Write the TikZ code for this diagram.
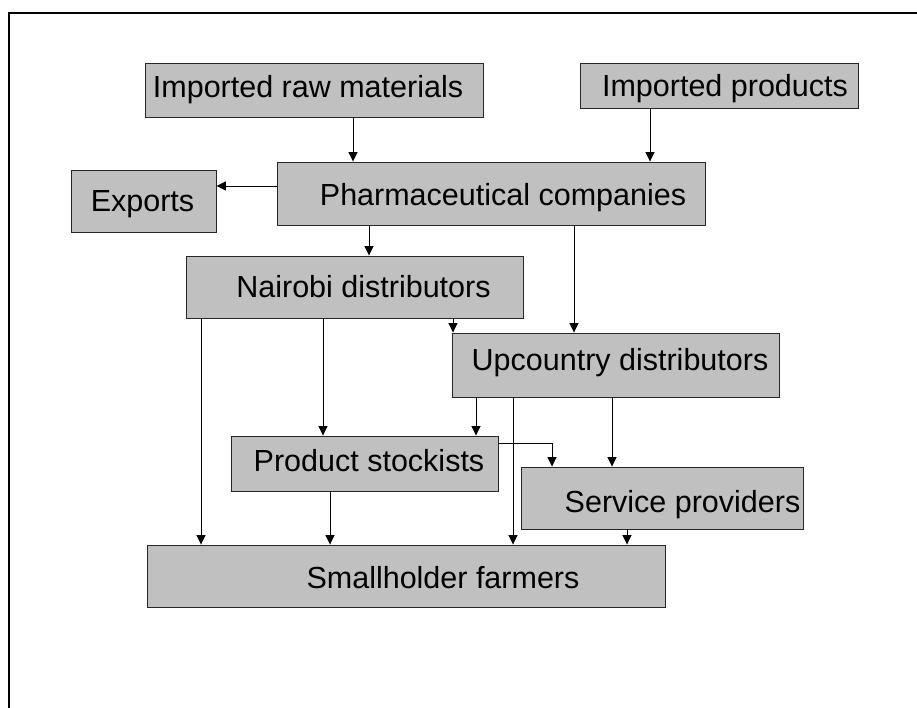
\documentclass[tikz,border=0pt]{standalone}
\usepackage{fontspec}
\setmainfont{Liberation Sans}
\usetikzlibrary{arrows.meta}
\definecolor{boxgray}{HTML}{C0C0C0}
\tikzset{
  box/.style={draw=black!85, line width=0.9pt, fill=boxgray, inner sep=0pt},
  lbl/.style={anchor=base, inner sep=0pt, font=\fontsize{30.5}{36}\selectfont},
  arr/.style={draw=black, line width=0.9pt, -{Triangle[length=9.5pt,width=9pt]}},
}
\begin{document}
\begin{tikzpicture}[x=1pt, y=-1pt]
\useasboundingbox (0,0) rectangle (917,708);
% outer frame, open towards right and bottom
\draw[line width=2.5pt] (9,708) -- (9,13) -- (917,13);

% boxes
\node[box, minimum width=338pt, minimum height=54pt] (raw)   at (314,90)    {};
\node[box, minimum width=278pt, minimum height=45pt] (prod)  at (719,85.5)  {};
\node[box, minimum width=428pt, minimum height=63pt] (pharm) at (491,193.5) {};
\node[box, minimum width=145pt, minimum height=62pt] (exp)   at (143.5,201) {};
\node[box, minimum width=337pt, minimum height=62pt] (nai)   at (354.5,287) {};
\node[box, minimum width=327pt, minimum height=64pt] (upc)   at (615.5,365) {};
\node[box, minimum width=267pt, minimum height=55pt] (stk)   at (364.5,463.5) {};
\node[box, minimum width=282pt, minimum height=62pt] (svc)   at (662,498)   {};
\node[box, minimum width=518pt, minimum height=62pt] (farm)  at (406,576)   {};

% labels
\node[lbl] (raw-t)   at (308,98)    {Imported raw materials};
\node[lbl] (prod-t)  at (725,97)    {Imported products};
\node[lbl] (pharm-t) at (503,206)   {Pharmaceutical companies};
\node[lbl] (exp-t)   at (142.5,212) {Exports};
\node[lbl] (nai-t)   at (363.5,298) {Nairobi distributors};
\node[lbl] (upc-t)   at (620,370)   {Upcountry distributors};
\node[lbl] (stk-t)   at (369,471)   {Product stockists};
\node[lbl] (svc-t)   at (682.5,512) {Service providers};
\node[lbl] (farm-t)  at (443,588)   {Smallholder farmers};

% connector start points
\coordinate (c1)  at ([xshift=39pt]raw.south);
\coordinate (c2)  at ([xshift=-69pt]prod.south);
\coordinate (c3)  at ([yshift=7.5pt]pharm.west);
\coordinate (c4)  at ([xshift=-122pt]pharm.south);
\coordinate (c5)  at ([xshift=83pt]pharm.south);
\coordinate (c6)  at ([xshift=98.5pt]nai.south);
\coordinate (c7)  at ([xshift=-153.5pt]nai.south);
\coordinate (c8)  at ([xshift=-31.5pt]nai.south);
\coordinate (c9)  at ([xshift=-139.5pt]upc.south);
\coordinate (c10) at ([xshift=-102.5pt]upc.south);
\coordinate (c11) at ([xshift=-3.5pt]upc.south);
\coordinate (c12) at ([yshift=20.5pt]stk.east);
\coordinate (e12) at ([xshift=-110pt]svc.north);
\coordinate (c13) at ([xshift=-34.5pt]stk.south);
\coordinate (c14) at ([xshift=-35pt]svc.south);

% connectors
\draw[arr] (c1)  -- (c1 |- pharm.north);
\draw[arr] (c2)  -- (c2 |- pharm.north);
\draw[arr] (c3)  -- (c3 -| exp.east);
\draw[arr] (c4)  -- (c4 |- nai.north);
\draw[arr] (c5)  -- (c5 |- upc.north);
\draw[arr] (c6)  -- (c6 |- upc.north);
\draw[arr] (c7)  -- (c7 |- farm.north);
\draw[arr] (c8)  -- (c8 |- stk.north);
\draw[arr] (c9)  -- (c9 |- stk.north);
\draw[arr] (c10) -- (c10 |- farm.north);
\draw[arr] (c11) -- (c11 |- svc.north);
\draw[arr] (c12) -| (e12);
\draw[arr] (c13) -- (c13 |- farm.north);
\draw[arr] (c14) -- (c14 |- farm.north);
\end{tikzpicture}
\end{document}
